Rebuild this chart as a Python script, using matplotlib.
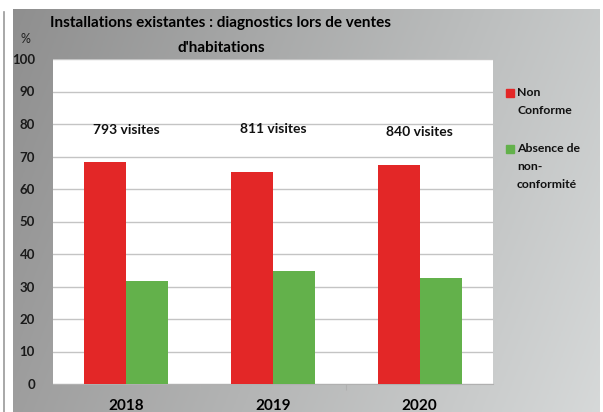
import numpy as np
import matplotlib.pyplot as plt

years = ["2018", "2019", "2020"]
non_conforme = [68.2, 65.1, 67.4]
absence_nc = [31.8, 34.9, 32.6]
visites = ["793 visites", "811 visites", "840 visites"]
visite_y = [78, 78.5, 77.5]

RED = "#e32727"
GREEN = "#63b14b"
FONT = "Lato"

fig = plt.figure(figsize=(6.03, 4.12), dpi=100)
fig.patch.set_facecolor("white")

# grey panel with a soft diagonal gradient behind the chart
bg = fig.add_axes([13 / 603, 0, 587 / 603, 403 / 412])
gx, gy = np.meshgrid(np.linspace(0, 1, 300), np.linspace(0, 1, 200))
shade = 0.56 + 0.22 * gx + 0.06 * gy
bg.imshow(np.dstack([shade, shade + 0.01 * gx, shade + 0.01 * gx]),
          aspect="auto", origin="upper", extent=[0, 1, 0, 1])
bg.set_axis_off()

# thin frame line on the far left
fig.add_artist(plt.Line2D([4 / 603, 4 / 603], [0, 400 / 412],
                          color="#9a9a9a", lw=1.2))

ax = fig.add_axes([53 / 603, 28 / 412, 440 / 603, 325 / 412])
ax.set_facecolor("white")
x = np.arange(len(years))
w = 0.286
ax.bar(x - w / 2, non_conforme, w, color=RED, zorder=3)
ax.bar(x + w / 2, absence_nc, w, color=GREEN, zorder=3)

for xi, txt, ty in zip(x, visites, visite_y):
    ax.text(xi, ty, txt, ha="center", va="center", fontsize=10,
            fontweight="bold", family=FONT, color="#111111")

ax.set_xlim(-0.5, 2.5)
ax.set_ylim(0, 100)
ax.set_yticks(range(0, 101, 10))
ax.yaxis.grid(True, color="#c4c4c4", lw=1, zorder=0)
ax.set_xticks([0.5, 1.5])
ax.set_xticklabels([])
ax.tick_params(axis="x", length=4, color="#b0b0b0")
ax.tick_params(axis="y", length=0, pad=13, labelsize=9.5,
               labelcolor="#1a1a1a")
for lab in ax.get_yticklabels():
    lab.set_fontweight("bold")
    lab.set_family(FONT)
for side in ["top", "right", "left"]:
    ax.spines[side].set_visible(False)
ax.spines["bottom"].set_color("#b0b0b0")

for xi, yr in zip(x, years):
    ax.text(xi, -6.9, yr, ha="center", va="center", fontsize=11,
            fontweight="bold", family=FONT, clip_on=False)

ax.text(-0.69, 106.3, "%", ha="center", va="center", fontsize=9,
        family=FONT, color="#222222")

fig.text(221 / 603, 1 - 23 / 412,
         "Installations existantes : diagnostics lors de ventes",
         ha="center", va="center", fontsize=11, fontweight="bold", family=FONT)
fig.text(221 / 603, 1 - 48 / 412, "d'habitations",
         ha="center", va="center", fontsize=11, fontweight="bold", family=FONT)

# legend drawn by hand, wrapped labels
legend = [(RED, ["Non", "Conforme"], 93),
          (GREEN, ["Absence de", "non-", "conformité"], 149)]
for col, lines, ytop in legend:
    fig.patches.append(plt.Rectangle((506 / 603, 1 - (ytop + 4) / 412),
                                     8 / 603, 8 / 412, color=col,
                                     transform=fig.transFigure))
    for i, line in enumerate(lines):
        fig.text(517 / 603, 1 - (ytop + 18 * i) / 412, line, ha="left",
                 va="center", fontsize=8.8, fontweight="bold", family=FONT,
                 color="#111111")

fig.savefig("out.png", dpi=100)
